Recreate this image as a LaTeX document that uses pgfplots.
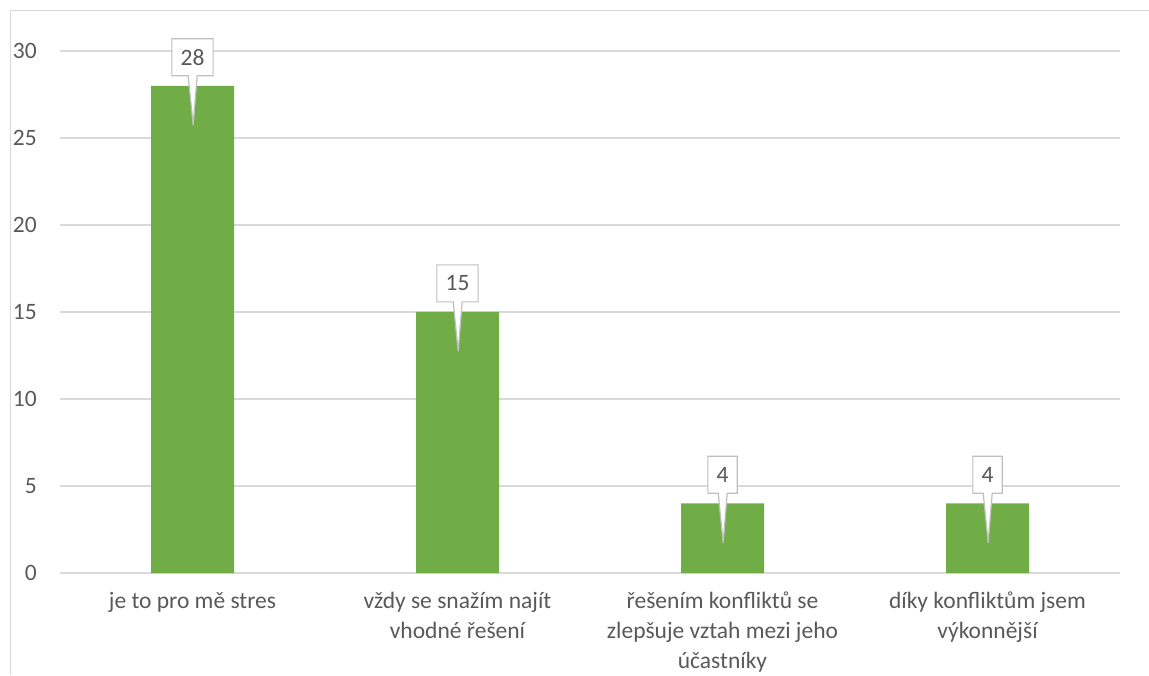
\documentclass[border=0pt]{standalone}
\usepackage{pgfplots}
\pgfplotsset{compat=1.18}
\usepackage{fontspec}
\setmainfont{Carlito}
\usetikzlibrary{shapes.callouts}
\definecolor{barg}{HTML}{70AD47}
\definecolor{txt}{HTML}{595959}
\definecolor{grd}{HTML}{D9D9D9}
\definecolor{boxb}{HTML}{BFBFBF}
\begin{document}
\begin{tikzpicture}
\draw[grd, line width=1.5pt] (10.5pt,0pt) -- (10.5pt,664.3pt) -- (1149pt,664.3pt);
\begin{axis}[
  at={(60pt,102pt)}, anchor=south west,
  width=1060pt, height=522pt, scale only axis,
  xmin=-0.5, xmax=3.5, ymin=0, ymax=30,
  ytick={0,5,...,30}, xtick={0,1,2,3},
  xticklabels={{je to pro mě stres},{vždy se snažím najít\\vhodné řešení},{řešením konfliktů se\\zlepšuje vztah mezi jeho\\účastníky},{díky konfliktům jsem\\výkonnější}},
  ymajorgrids, major grid style={grd, line width=1.3pt},
  axis line style={draw=none},
  major tick length=0pt,
  tick style={draw=none},
  /pgf/number format/assume math mode=true,
  ticklabel style={font=\fontsize{23.5}{30}\selectfont, text=txt},
  yticklabel style={anchor=east, inner sep=0pt, xshift=-23pt},
  xticklabel style={anchor=north, inner sep=0pt, yshift=-18.7pt, align=center},
  ybar, bar width=83pt,
  clip=false,
  nodes near coords,
  every node near coord/.append style={rectangle callout, draw=boxb, fill=white, line width=1.2pt, text=txt, font=\fontsize{23.5}{30}\selectfont, inner xsep=8.7pt, inner ysep=0pt, minimum height=37pt, anchor=south, yshift=9.5pt, callout relative pointer={(0.5pt,-49.5pt)}, callout pointer width=9pt},
]
\addplot[fill=barg, draw=none] coordinates {(0,28) (1,15) (2,4) (3,4)};
\end{axis}
\pgfresetboundingbox
\useasboundingbox (0,0) rectangle (1149pt,675pt);
\end{tikzpicture}
\end{document}
